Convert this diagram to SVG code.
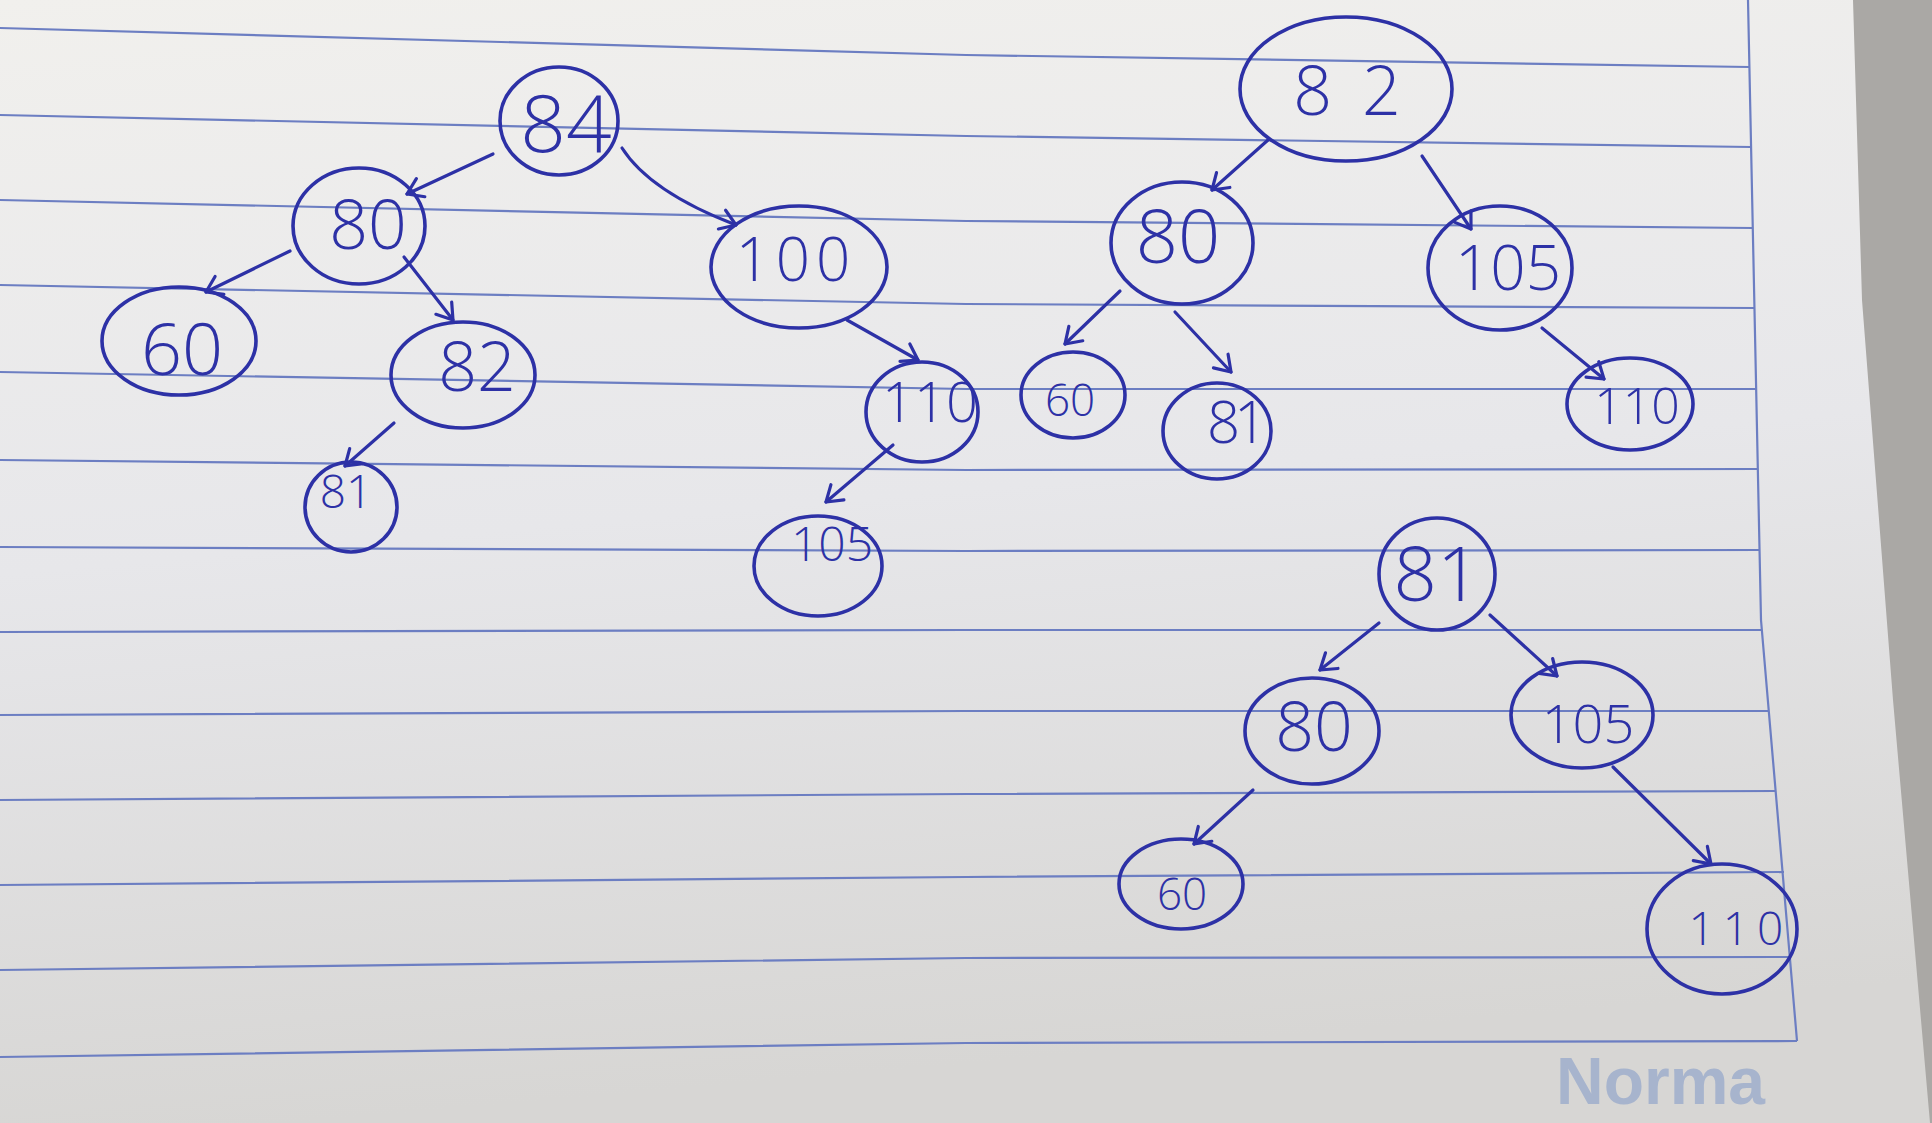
<svg xmlns="http://www.w3.org/2000/svg" width="1932" height="1123" viewBox="0 0 1932 1123">
<defs>
<linearGradient id="paperGrad" x1="0" y1="0" x2="0.15" y2="1">
<stop offset="0" stop-color="#f1f0ed"/>
<stop offset="0.5" stop-color="#e7e7ea"/>
<stop offset="1" stop-color="#d7d6d4"/>
</linearGradient>
<marker id="arrow" markerUnits="userSpaceOnUse" markerWidth="30" markerHeight="30" viewBox="-20 -15 30 30" refX="0" refY="0" orient="auto">
<path d="M-15,-10 L0,0 L-15,10" fill="none" stroke="#2d31a6" stroke-width="3.2" stroke-linecap="round" stroke-linejoin="round"/>
</marker>
</defs>
<style>
.node{fill:none;stroke:#2d31a6;stroke-width:3.6}
.lbl{font-family:"Open Sans","Liberation Sans",sans-serif;font-weight:300;fill:#2d31a6;text-anchor:middle}
.edge{fill:none;stroke:#2d31a6;stroke-width:3.2;stroke-linecap:round;marker-end:url(#arrow)}
.rule{fill:none;stroke:#6c7ec2;stroke-width:2.2}
</style>
<rect x="0" y="0" width="1932" height="1123" fill="#aaa8a5"/>
<path d="M0,0 L1853,0 L1862,300 L1893,700 L1930,1123 L0,1123 Z" fill="url(#paperGrad)"/>
<g id="paper-lines">
<path class="rule" d="M0,28 L966,55 L1749,67"/>
<path class="rule" d="M0,115 L966,136 L1751,147"/>
<path class="rule" d="M0,200 L966,221 L1753,228"/>
<path class="rule" d="M0,285 L966,304 L1754,308"/>
<path class="rule" d="M0,372 L966,389 L1756,389"/>
<path class="rule" d="M0,460 L966,470 L1758,469"/>
<path class="rule" d="M0,547 L966,551 L1760,550"/>
<path class="rule" d="M0,632 L966,630 L1762,630"/>
<path class="rule" d="M0,715 L966,711 L1769,711"/>
<path class="rule" d="M0,800 L966,794 L1776,791"/>
<path class="rule" d="M0,885 L966,877 L1784,872"/>
<path class="rule" d="M0,970 L966,958 L1791,957"/>
<path class="rule" d="M0,1057 L966,1043 L1797,1041"/>
<path class="rule" d="M1748,0 L1761,620 L1797,1041"/>
</g>
<text x="1556" y="1104" font-family="'Liberation Sans',sans-serif" font-weight="700" font-size="66" fill="#a7b4cd">Norma</text>
<g id="connectors">
<path class="edge" d="M493,154 L407,194"/>
<path class="edge" d="M622,148 Q650,192 736,225"/>
<path class="edge" d="M290,251 L206,292"/>
<path class="edge" d="M404,257 L453,320"/>
<path class="edge" d="M394,423 L345,466"/>
<path class="edge" d="M847,320 L918,360"/>
<path class="edge" d="M893,445 L826,502"/>
<path class="edge" d="M1268,140 L1212,190"/>
<path class="edge" d="M1422,156 L1471,229"/>
<path class="edge" d="M1120,291 L1065,344"/>
<path class="edge" d="M1175,312 L1231,372"/>
<path class="edge" d="M1542,328 L1604,379"/>
<path class="edge" d="M1379,623 L1320,670"/>
<path class="edge" d="M1490,615 L1557,676"/>
<path class="edge" d="M1253,790 L1194,844"/>
<path class="edge" d="M1613,767 L1711,864"/>
</g>
<g id="t1-84"><ellipse class="node" cx="559" cy="121" rx="59" ry="54"/><text class="lbl" x="566" y="152" font-size="80">84</text></g>
<g id="t1-80"><ellipse class="node" cx="359" cy="226" rx="66" ry="58"/><text class="lbl" x="368" y="249" font-size="68">80</text></g>
<g id="t1-60"><ellipse class="node" cx="179" cy="341" rx="77" ry="54"/><text class="lbl" x="182" y="375" font-size="72">60</text></g>
<g id="t1-82"><ellipse class="node" cx="463" cy="375" rx="72" ry="53"/><text class="lbl" x="477" y="391" font-size="68">82</text></g>
<g id="t1-81"><ellipse class="node" cx="351" cy="507" rx="46" ry="45"/><text class="lbl" x="346" y="508" font-size="46">81</text></g>
<g id="t1-100"><ellipse class="node" cx="799" cy="267" rx="88" ry="61"/><text class="lbl" x="796" y="281" font-size="60" letter-spacing="6">100</text></g>
<g id="t1-110"><ellipse class="node" cx="922" cy="412" rx="56" ry="50"/><text class="lbl" x="930" y="422" font-size="56">110</text></g>
<g id="t1-105"><ellipse class="node" cx="818" cy="566" rx="64" ry="50"/><text class="lbl" x="832" y="561" font-size="48">105</text></g>
<g id="t2-82"><ellipse class="node" cx="1346" cy="89" rx="106" ry="72"/><text class="lbl" x="1362" y="115" font-size="68" letter-spacing="30">82</text></g>
<g id="t2-80"><ellipse class="node" cx="1182" cy="243" rx="71" ry="61"/><text class="lbl" x="1178" y="263" font-size="74">80</text></g>
<g id="t2-105"><ellipse class="node" cx="1500" cy="268" rx="72" ry="62"/><text class="lbl" x="1508" y="290" font-size="62">105</text></g>
<g id="t2-60"><ellipse class="node" cx="1073" cy="395" rx="52" ry="43"/><text class="lbl" x="1070" y="416" font-size="44">60</text></g>
<g id="t2-81"><ellipse class="node" cx="1217" cy="431" rx="54" ry="48"/><text class="lbl" x="1234" y="443" font-size="58" letter-spacing="-6">81</text></g>
<g id="t2-110"><ellipse class="node" cx="1630" cy="404" rx="63" ry="46"/><text class="lbl" x="1637" y="424" font-size="50">110</text></g>
<g id="t3-81"><ellipse class="node" cx="1437" cy="574" rx="58" ry="56"/><text class="lbl" x="1437" y="601" font-size="76">81</text></g>
<g id="t3-80"><ellipse class="node" cx="1312" cy="731" rx="67" ry="53"/><text class="lbl" x="1314" y="751" font-size="68">80</text></g>
<g id="t3-105"><ellipse class="node" cx="1582" cy="715" rx="71" ry="53"/><text class="lbl" x="1588" y="743" font-size="54">105</text></g>
<g id="t3-60"><ellipse class="node" cx="1181" cy="884" rx="62" ry="45"/><text class="lbl" x="1182" y="910" font-size="44">60</text></g>
<g id="t3-110"><ellipse class="node" cx="1722" cy="929" rx="75" ry="65"/><text class="lbl" x="1740" y="945" font-size="46" letter-spacing="8">110</text></g>
</svg>
